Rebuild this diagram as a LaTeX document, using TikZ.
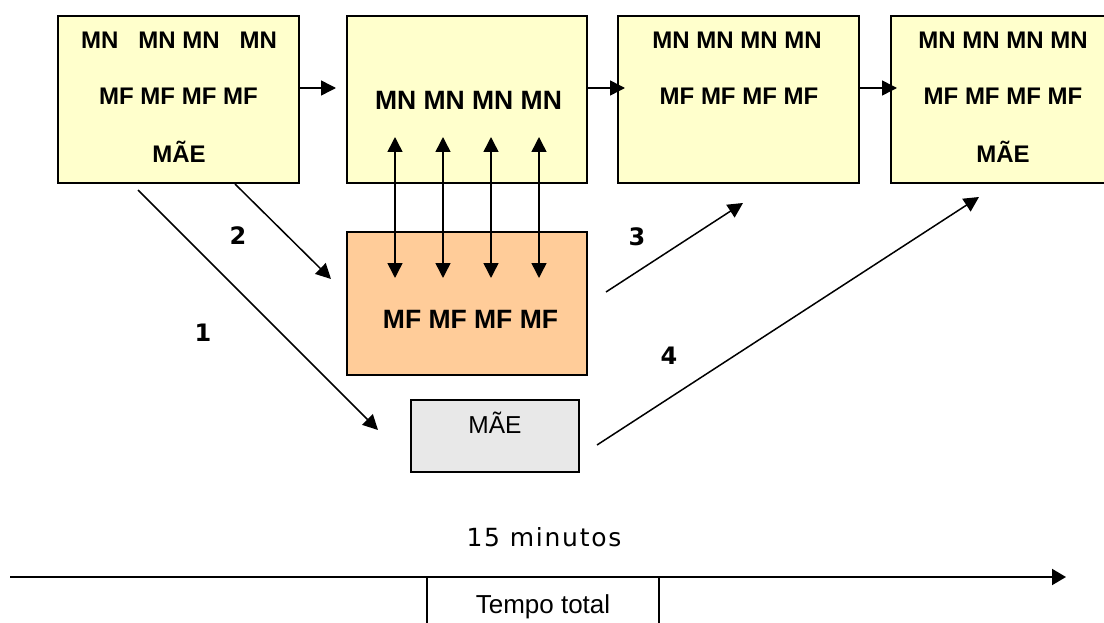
\documentclass[tikz,border=0pt]{standalone}
\usepackage{fontspec}
\setmainfont{Liberation Sans}
\newfontfamily\verd{DejaVu Sans}
\newfontfamily\verdsp[LetterSpace=7]{DejaVu Sans}
\usetikzlibrary{arrows.meta,positioning}
\definecolor{amarelo}{HTML}{FFFFCC}
\definecolor{laranja}{HTML}{FFCC99}
\definecolor{cinza}{HTML}{E8E8E8}
\tikzset {>={Triangle[length=15pt,width=15pt]}}
\tikzset{
  caixa/.style={draw,line width=2pt,fill=amarelo,inner sep=0pt,
    minimum width=241pt,minimum height=167pt},
  linha/.style={inner sep=0pt,text height=17.2pt,text depth=0pt,
    font=\bfseries\fontsize{24}{28}\selectfont},
  linhag/.style={inner sep=0pt,text height=19pt,text depth=0pt,
    font=\bfseries\fontsize{26.5}{30}\selectfont},
  num/.style={inner sep=0pt,text height=17.5pt,text depth=0pt,
    font=\verd\bfseries\fontsize{24}{28}\selectfont},
  seta/.style={->,line width=1.5pt}
}

\begin{document}
\begin{tikzpicture}[x=1pt,y=-1pt]
\useasboundingbox (0,0) rectangle (1104,623);
\clip (0,0) rectangle (1104,623);

\node[caixa] (b1) at (178.5,99.5) {};
\node[caixa,minimum width=240pt] (b2) at (467,99.5) {};
\node[caixa] (b3) at (738.5,99.5) {};
\node[caixa] (b4) at (1011.5,99.5) {};
\node[draw,line width=2pt,fill=laranja,inner sep=0pt,
  minimum width=240pt,minimum height=143pt] (mf) at (467,303.5) {};
\node[draw,line width=2pt,fill=cinza,inner sep=0pt,
  minimum width=168pt,minimum height=72pt] (mae) at (495,436) {};

\node[linha] (b1a) at (179,40) {MN\hspace{20pt}MN MN\hspace{20pt}MN};
\node[linha] (b1b) at (178.5,96) {MF MF MF MF};
\node[linha] (b1c) at (179,154) {MÃE};
\node[linhag] (b2a) at (468.5,100) {MN MN MN MN};
\node[linha] (b3a) at (737,40) {MN MN MN MN};
\node[linha] (b3b) at (739,96) {MF MF MF MF};
\node[linha] (b4a) at (1003,40) {MN MN MN MN};
\node[linha] (b4b) at (1003,96) {MF MF MF MF};
\node[linha] (b4c) at (1003,154) {MÃE};
\node[linhag] (mfa) at (470.5,319) {MF MF MF MF};
\node[inner sep=0pt,text height=17.5pt,text depth=0pt,
  font=\fontsize{24.5}{28}\selectfont] (maea) at (495,424.5) {MÃE};

\draw[seta] ([yshift=11.5pt]b1.east) -- ([xshift=-10pt,yshift=11.5pt]b2.west);
\draw[seta] ([yshift=11.5pt]b2.east) -- ([xshift=8pt,yshift=11.5pt]b3.west);
\draw[seta] ([yshift=11.5pt]b3.east) -- ([xshift=7pt,yshift=11.5pt]b4.west);
\foreach \d in {-72,-24,24,72}
  \draw[seta,<->] ([xshift=\d pt,yshift=47pt]b2.south) -- ([xshift=\d pt,yshift=-47pt]mf.north);

\coordinate (s1) at (138,190);
\coordinate (e1) at (378,430);
\coordinate (s2) at (235,184);
\coordinate (e2) at (331,279);
\coordinate (s3) at (606,292);
\coordinate (e3) at (743,203);
\coordinate (s4) at (597,445);
\coordinate (e4) at (979,197);
\draw[seta] (s1) -- (e1);
\draw[seta] (s2) -- (e2);
\draw[seta] (s3) -- (e3);
\draw[seta] (s4) -- (e4);

\node[num] (n1) at (203,333) {1};
\node[num] (n2) at (238,236) {2};
\node[num] (n3) at (637,237) {3};
\node[num] (n4) at (669,356) {4};

\node[inner sep=0pt,text height=18.2pt,text depth=0pt,
  font=\verdsp\fontsize{25}{28}\selectfont] (min) at (544,537) {15 minutos};
\node[draw,line width=1.2pt,inner sep=0pt,minimum width=232pt,
  minimum height=73pt] (tt) at (543,613.5) {};
\node[inner sep=0pt,text height=19pt,text depth=0pt,
  font=\fontsize{26}{30}\selectfont] (tta) at (543,603.5) {Tempo total};
\coordinate (t0) at (10,577);
\coordinate (t1) at (1066,577);
\draw[->,line width=2pt,>={Triangle[length=14pt,width=16pt]}] (t0) -- (t1);
\end{tikzpicture}
\end{document}
